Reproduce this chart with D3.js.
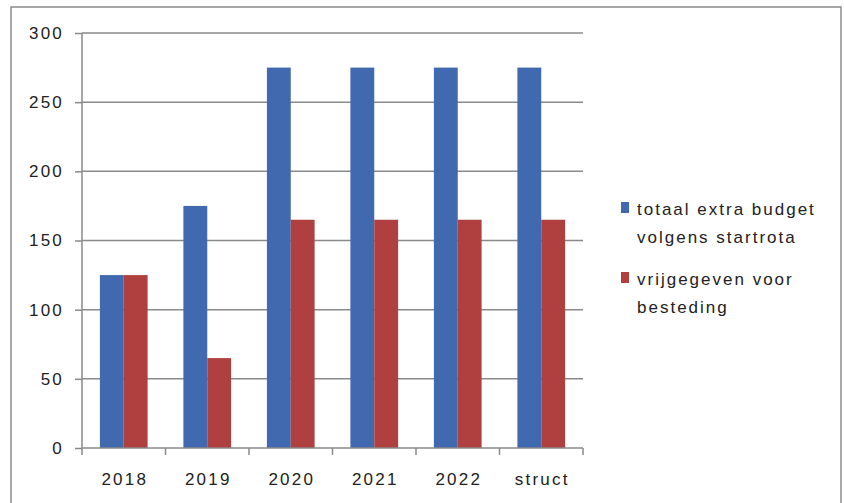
<!DOCTYPE html>
<html>
<head>
<meta charset="utf-8">
<script src="https://cdn.jsdelivr.net/npm/d3@7"></script>
<style>
  html, body { margin: 0; padding: 0; background: #fff; }
  svg { display: block; }
  text { font-family: "Liberation Sans", Arial, sans-serif; fill: #222; }
</style>
</head>
<body>
<svg id="chart" width="844" height="503"></svg>
<script>
const categories = ["2018", "2019", "2020", "2021", "2022", "struct"];
const seriesNames = ["totaal extra budget volgens startrota", "vrijgegeven voor besteding"];
const totaalExtraBudget = [125, 175, 275, 275, 275, 275];
const vrijgegeven = [125, 65, 165, 165, 165, 165];
const yTicks = [0, 50, 100, 150, 200, 250, 300];
const legendLines = [["totaal extra budget", "volgens startrota"], ["vrijgegeven voor", "besteding"]];
const colors = ["#4169AF", "#B0403F"];

const svg = d3.select("#chart");
const m = { left: 82, right: 583, top: 33, bottom: 448 };

// outer border
svg.append("rect").attr("x", 11).attr("y", 7).attr("width", 830).attr("height", 510)
  .attr("fill", "none").attr("stroke", "#8c8c8c").attr("stroke-width", 1.5);

const x = d3.scaleBand().domain(categories).range([m.left, m.right]).paddingInner(0).paddingOuter(0);
const y = d3.scaleLinear().domain([0, 300]).range([m.bottom, m.top]);

// gridlines
svg.append("g").selectAll("line").data(yTicks.filter(d => d > 0)).join("line")
  .attr("x1", m.left).attr("x2", m.right)
  .attr("y1", d => y(d)).attr("y2", d => y(d))
  .attr("stroke", "#8a8a8a").attr("stroke-width", 1.5);

// bars
const data = categories.map((c, i) => ({ c, vals: [totaalExtraBudget[i], vrijgegeven[i]] }));
const bw = x.bandwidth() / 3.5;
const g = svg.append("g");
data.forEach(d => {
  d.vals.forEach((v, j) => {
    const x0 = x(d.c) + x.bandwidth() / 2 - bw + j * bw;
    g.append("rect").attr("x", x0).attr("width", bw)
      .attr("y", y(v)).attr("height", y(0) - y(v)).attr("fill", colors[j]);
  });
});

// y axis
const yAxis = d3.axisLeft(y).tickValues(yTicks).tickSize(7).tickPadding(11);
const ya = svg.append("g").attr("transform", `translate(${m.left},0)`).call(yAxis);
ya.select(".domain").attr("stroke", "#8a8a8a").attr("stroke-width", 1.5).attr("d", `M0,${m.top}V${m.bottom}`);
ya.selectAll(".tick line").attr("stroke", "#8a8a8a").attr("stroke-width", 1.5);
ya.selectAll(".tick text").attr("font-size", 17).attr("fill", "#222")
  .attr("letter-spacing", "2.2px")
  .attr("font-family", "Liberation Sans, Arial, sans-serif");

// x axis
const xa = svg.append("g").attr("transform", `translate(0,${m.bottom})`);
xa.append("line").attr("x1", m.left).attr("x2", m.right).attr("stroke", "#8a8a8a").attr("stroke-width", 1.5);
const tickPos = categories.map(c => x(c)).concat([m.right]);
xa.selectAll("line.t").data(tickPos).join("line").attr("class", "t")
  .attr("x1", d => d).attr("x2", d => d).attr("y1", 0).attr("y2", 7)
  .attr("stroke", "#8a8a8a").attr("stroke-width", 1.5);
xa.selectAll("text").data(categories).join("text")
  .attr("x", d => x(d) + x.bandwidth() / 2 + 1).attr("y", 37)
  .attr("text-anchor", "middle").attr("font-size", 17)
  .attr("letter-spacing", "2.2px").text(d => d);

// legend
const lg = svg.append("g");
legendLines.forEach((lines, i) => {
  const top = i === 0 ? 202 : 272;
  lg.append("rect").attr("x", 621).attr("y", top).attr("width", 8).attr("height", 11).attr("fill", colors[i]);
  lines.forEach((t, k) => {
    lg.append("text").attr("x", 637).attr("y", top + 13 + k * 28)
      .attr("font-size", 17).attr("letter-spacing", "2px").text(t);
  });
});
</script>
</body>
</html>
